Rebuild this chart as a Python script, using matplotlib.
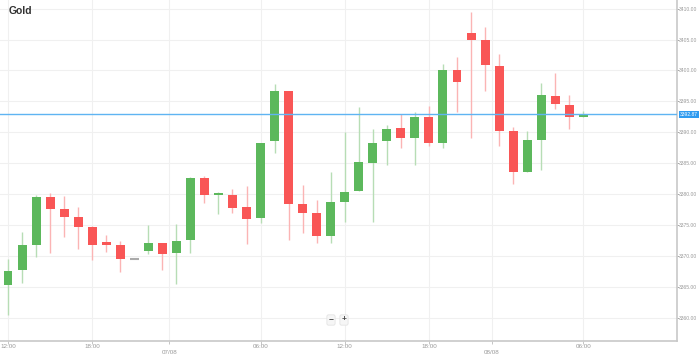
import numpy as np
import matplotlib.pyplot as plt

# hourly OHLC
opens = [3365.3, 3367.7, 3371.7, 3379.5, 3377.6, 3376.2, 3374.7, 3372.1, 3371.7, 3369.4,
         3370.8, 3372.0, 3370.4, 3372.6, 3382.6, 3379.8, 3379.9, 3377.9, 3376.1, 3388.5,
         3396.7, 3378.3, 3377.0, 3373.2, 3378.7, 3380.5, 3385.0, 3388.6, 3390.6, 3389.1,
         3392.5, 3388.2, 3400.1, 3406.0, 3405.0, 3400.7, 3390.2, 3383.5, 3388.8, 3395.9,
         3394.4, 3392.4]
closes = [3367.6, 3371.8, 3379.5, 3377.6, 3376.3, 3374.7, 3371.8, 3371.8, 3369.4, 3369.4,
          3372.1, 3370.3, 3372.4, 3382.6, 3379.9, 3379.9, 3377.7, 3375.9, 3388.3, 3396.7,
          3378.3, 3376.9, 3373.2, 3378.7, 3380.4, 3385.1, 3388.3, 3390.5, 3389.1, 3392.5,
          3388.3, 3400.1, 3398.1, 3404.9, 3400.8, 3390.2, 3383.5, 3388.8, 3396.0, 3394.5,
          3392.4, 3392.9]
highs = [3369.5, 3373.8, 3379.8, 3380.2, 3379.6, 3377.9, 3374.8, 3373.3, 3372.4, 3369.4,
         3375.0, 3372.0, 3375.2, 3382.7, 3382.9, 3380.4, 3380.8, 3381.3, 3388.3, 3397.8,
         3396.7, 3381.5, 3379.0, 3383.5, 3390.1, 3394.1, 3390.5, 3391.2, 3393.0, 3393.3,
         3394.3, 3401.1, 3402.2, 3409.4, 3407.1, 3402.7, 3390.9, 3390.2, 3398.0, 3399.6,
         3396.1, 3393.4]
lows = [3360.4, 3365.6, 3369.8, 3370.5, 3373.1, 3371.1, 3369.3, 3370.6, 3367.4, 3369.4,
        3370.3, 3367.7, 3365.5, 3370.5, 3378.6, 3376.7, 3377.0, 3371.9, 3375.3, 3386.6,
        3372.6, 3373.7, 3372.0, 3372.1, 3375.5, 3380.5, 3375.5, 3384.7, 3387.4, 3384.7,
        3387.8, 3387.5, 3393.2, 3389.0, 3396.7, 3387.8, 3381.6, 3383.5, 3383.9, 3393.7,
        3390.5, 3392.4]
last_price = 3392.87

y_ticks = [3360, 3365, 3370, 3375, 3380, 3385, 3390, 3395, 3400, 3405, 3410]
x_tick_pos = [0, 6, 11.5, 18, 24, 30, 34.5, 41]
x_tick_lab = ["12:00", "18:00", "07/08", "06:00", "12:00", "18:00", "08/08", "06:00"]

green = "#5cb85c"
red = "#f95656"
green_wick = "#b7ddb5"
red_wick = "#fbb4b4"

plt.rcParams['font.family'] = ['Liberation Sans', 'DejaVu Sans']

fig = plt.figure(figsize=(6.99, 3.59), dpi=100)
ax = fig.add_axes([0, 18 / 359, 677 / 699, 341 / 359])

idx = np.arange(len(opens))
o = np.array(opens)
c = np.array(closes)
h = np.array(highs)
l = np.array(lows)

up = c > o
down = c < o
flat = c == o

# wicks
ax.vlines(idx[up | flat], l[up | flat], h[up | flat], color=green_wick, lw=1, zorder=2)
ax.vlines(idx[down], l[down], h[down], color=red_wick, lw=1, zorder=2)

# bodies
w = 0.64
body = np.maximum(np.abs(c - o), 0.35)
bottom = np.minimum(o, c)
ax.bar(idx[up], body[up], w, bottom=bottom[up], color=green, zorder=3)
ax.bar(idx[down], body[down], w, bottom=bottom[down], color=red, zorder=3)
ax.hlines(c[flat], idx[flat] - w / 2, idx[flat] + w / 2, color="#aaaaaa", lw=1.5, zorder=3)

# last price line
ax.axhline(last_price, color="#5fb4f2", lw=1, zorder=4)

ax.set_xlim(-0.57, 47.68)
ax.set_ylim(3356.2, 3411.4)

ax.yaxis.tick_right()
ax.set_yticks(y_ticks)
ax.set_yticklabels([f"{v:.2f}" for v in y_ticks])
ax.tick_params(axis="y", labelsize=3.6, labelcolor="#999999", color="#999999",
               length=1.2, width=0.6, pad=0.4)
ax.set_xticks(x_tick_pos)
ax.set_xticklabels([])
ax.tick_params(axis="x", length=2, width=0.6, color="#bbbbbb")
for xp, lab in zip(x_tick_pos, x_tick_lab):
    yy = -0.033 if "/" in lab else -0.015
    ax.text(xp, yy, lab, transform=ax.get_xaxis_transform(), ha="center", va="center",
            fontsize=4.5, color="#999999")

ax.grid(True, color="#f0f0f0", lw=0.8, zorder=0)
for s in ["top", "left"]:
    ax.spines[s].set_visible(False)
for s in ["right", "bottom"]:
    ax.spines[s].set_color("#c8c8c8")
    ax.spines[s].set_linewidth(1.2)

# price tag
ax.text(1.004, last_price, f"{last_price:.2f}", transform=ax.get_yaxis_transform(),
        ha="left", va="center", fontsize=3.6, color="white",
        bbox=dict(boxstyle="square,pad=0.2", fc="#2f9bf0", ec="none"), clip_on=False)

# title
fig.text(9 / 699, 1 - 11 / 359, "Gold", ha="left", va="center", fontsize=7.5,
         fontweight="bold", color="#333333")

# zoom buttons
for xb, sym in [(331, "\u2212"), (344, "+")]:
    fig.text(xb / 699, 1 - 320 / 359, sym, ha="center", va="center", fontsize=6,
             color="#444444", fontweight="bold",
             bbox=dict(boxstyle="round,pad=0.2", fc="#f6f6f6", ec="#e4e4e4", lw=0.6))

fig.savefig("out.png", dpi=100)
